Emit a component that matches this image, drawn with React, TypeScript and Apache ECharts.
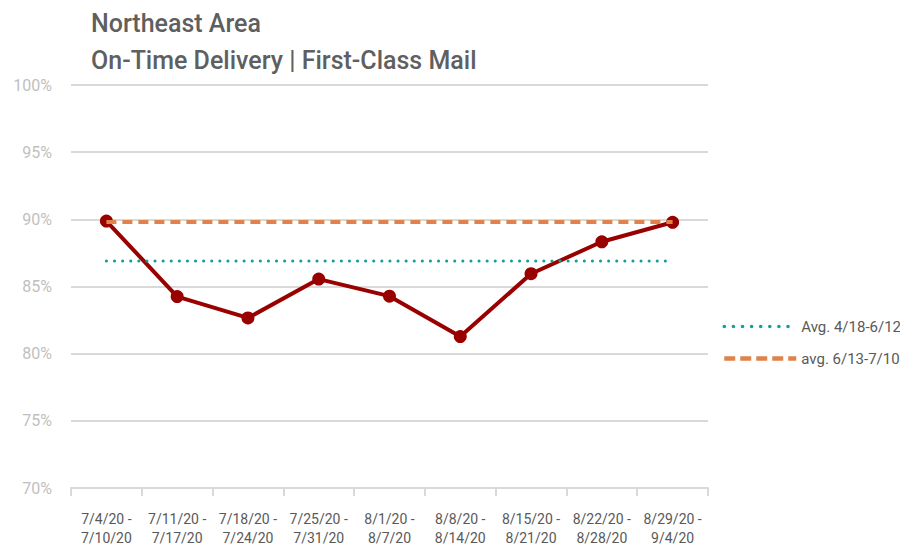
import React, { useEffect, useRef } from "react";
import * as echarts from "echarts";

const categories = [
  "7/4/20 -\n7/10/20",
  "7/11/20 -\n7/17/20",
  "7/18/20 -\n7/24/20",
  "7/25/20 -\n7/31/20",
  "8/1/20 -\n8/7/20",
  "8/8/20 -\n8/14/20",
  "8/15/20 -\n8/21/20",
  "8/22/20 -\n8/28/20",
  "8/29/20 -\n9/4/20",
];
const onTime = [89.87, 84.25, 82.66, 85.55, 84.28, 81.27, 85.95, 88.33, 89.78];
const avgAprJun = [86.89, 86.89, 86.89, 86.89, 86.89, 86.89, 86.89, 86.89, 86.89];
const avgJunJul = [89.8, 89.8, 89.8, 89.8, 89.8, 89.8, 89.8, 89.8, 89.8];
const titleLines = ["Northeast Area", "On-Time Delivery | First-Class Mail"];
const legendNames = ["Avg. 4/18-6/12", "avg. 6/13-7/10"];

const FONT = "Roboto, 'Noto Sans', sans-serif";

export default function App() {
  const ref = useRef<HTMLDivElement>(null);
  useEffect(() => {
    if (!ref.current) return;
    const chart = echarts.init(ref.current, undefined, { renderer: "svg" });
    chart.setOption({
      animation: false,
      backgroundColor: "#ffffff",
      textStyle: { fontFamily: FONT },
      title: {
        text: titleLines.join("\n"),
        left: 86,
        top: 0,
        textStyle: {
          fontFamily: FONT,
          fontSize: 25,
          fontWeight: 500,
          color: "#5f5f5f",
          lineHeight: 37,
        },
      },
      grid: { left: 71, right: 192, top: 85, bottom: 64, containLabel: false },
      legend: {
        orient: "vertical",
        left: 717,
        top: 314,
        itemWidth: 72,
        itemHeight: 14,
        itemGap: 17,
        data: [
          { name: legendNames[0], lineStyle: { width: 3.5, type: [0.1, 9], cap: "round" } },
          { name: legendNames[1], lineStyle: { width: 4.5, type: [11, 5] } },
        ],
        itemStyle: { opacity: 0 },
        textStyle: { fontFamily: FONT, fontSize: 15, color: "#595959" },
      },
      xAxis: {
        type: "category",
        data: categories,
        boundaryGap: true,
        axisLine: { show: true, lineStyle: { color: "#d9d9d9", width: 2 } },
        axisTick: { show: true, length: 8, lineStyle: { color: "#d9d9d9", width: 2 } },
        axisLabel: {
          interval: 0,
          color: "#595959",
          fontSize: 14,
          lineHeight: 19,
          margin: 21,
          fontFamily: FONT,
        },
      },
      yAxis: {
        type: "value",
        min: 70,
        max: 100,
        interval: 5,
        axisLine: { show: false },
        axisTick: { show: false },
        splitLine: { lineStyle: { color: "#d9d9d9", width: 2 } },
        axisLabel: {
          formatter: "{value}%",
          color: "#bfbfbf",
          fontSize: 16,
          margin: 19,
          fontFamily: FONT,
        },
      },
      series: [
        {
          name: "On-Time",
          type: "line",
          data: onTime,
          symbol: "circle",
          symbolSize: 13,
          z: 2,
          lineStyle: { color: "#990000", width: 4 },
          itemStyle: { color: "#990000" },
        },
        {
          name: legendNames[0],
          type: "line",
          data: avgAprJun,
          symbol: "none",
          z: 3,
          lineStyle: { color: "#149e98", width: 3, type: [0.1, 8], cap: "round" },
          itemStyle: { color: "#149e98" },
        },
        {
          name: legendNames[1],
          type: "line",
          data: avgJunJul,
          symbol: "none",
          z: 3,
          lineStyle: { color: "#e0834a", width: 4, type: [10, 6] },
          itemStyle: { color: "#e0834a" },
        },
      ],
    });
    return () => chart.dispose();
  }, []);
  return <div ref={ref} style={{ width: 900, height: 552, position: "absolute", left: 0, top: 0 }} />;
}
